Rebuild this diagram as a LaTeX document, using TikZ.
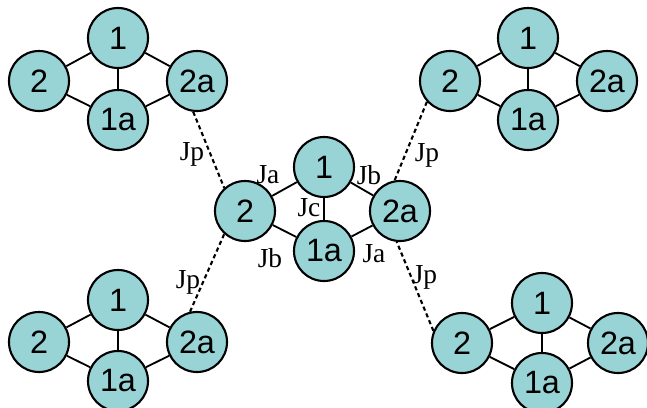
\documentclass[tikz,border=0pt]{standalone}
\usepackage{fontspec}
\setmainfont{Liberation Serif}
\setsansfont{Liberation Sans}
\usetikzlibrary{positioning}
\definecolor{spin}{RGB}{152,211,213}

\begin{document}
\begin{tikzpicture}[x=0.025cm, y=-0.025cm,
  st/.style={circle, draw, line width=1.5pt, fill=spin, minimum size=1.5cm, inner sep=0pt, font=\sffamily\fontsize{23}{23}\selectfont},
  b/.style={line width=1.3pt},
  jp/.style={line width=1.5pt, dash pattern=on 3pt off 2.2pt},
  al/.style={font=\fontsize{19.5}{19.5}\selectfont, inner sep=1pt}]
\useasboundingbox (0,0) rectangle (647,408);
% centre
\node[st] (c2)  at (245,211) {2};
\node[st] (c1)  at (324,167) {1};
\node[st] (c2a) at (400,211) {2a};
\node[st] (c1a) at (324,251) {1a};
\draw[b] (c2)--(c1) (c1)--(c2a) (c2)--(c1a) (c1a)--(c2a) (c1)--(c1a);
\node[al] (ja1) at (268,175) {Ja};
\node[al] (jb1) at (369,175) {Jb};
\node[al] (jc)  at (309,208) {Jc};
\node[al] (jb2) at (270,258) {Jb};
\node[al] (ja2) at (374,254) {Ja};
% top left
\node[st] (tl2)  at (39,81)   {2};
\node[st] (tl1)  at (118,38)  {1};
\node[st] (tl2a) at (197,81)  {2a};
\node[st] (tl1a) at (118,120) {1a};
\draw[b] (tl2)--(tl1) (tl1)--(tl2a) (tl2)--(tl1a) (tl1a)--(tl2a) (tl1)--(tl1a);
% top right
\node[st] (tr2)  at (450,81)  {2};
\node[st] (tr1)  at (528,38)  {1};
\node[st] (tr2a) at (607,81)  {2a};
\node[st] (tr1a) at (528,120) {1a};
\draw[b] (tr2)--(tr1) (tr1)--(tr2a) (tr2)--(tr1a) (tr1a)--(tr2a) (tr1)--(tr1a);
% bottom left
\node[st] (bl2)  at (39,342)  {2};
\node[st] (bl1)  at (118,300) {1};
\node[st] (bl2a) at (197,342) {2a};
\node[st] (bl1a) at (118,381) {1a};
\draw[b] (bl2)--(bl1) (bl1)--(bl2a) (bl2)--(bl1a) (bl1a)--(bl2a) (bl1)--(bl1a);
% bottom right
\node[st] (br2)  at (462,343) {2};
\node[st] (br1)  at (542,303) {1};
\node[st] (br2a) at (618,343) {2a};
\node[st] (br1a) at (542,383) {1a};
\draw[b] (br2)--(br1) (br1)--(br2a) (br2)--(br1a) (br1a)--(br2a) (br1)--(br1a);
% inter-cluster Jp
\draw[jp] (tl2a.263)--(c2.132);
\draw[jp] (tr2.222)--(c2a.100);
\draw[jp] (bl2a.103)--(c2.228);
\draw[jp] (br2.157)--(c2a.264);
\node[al] (jp1) at (192,154) {Jp};
\node[al] (jp2) at (427,155) {Jp};
\node[al] (jp3) at (188,282) {Jp};
\node[al] (jp4) at (425,277) {Jp};
\end{tikzpicture}
\end{document}
